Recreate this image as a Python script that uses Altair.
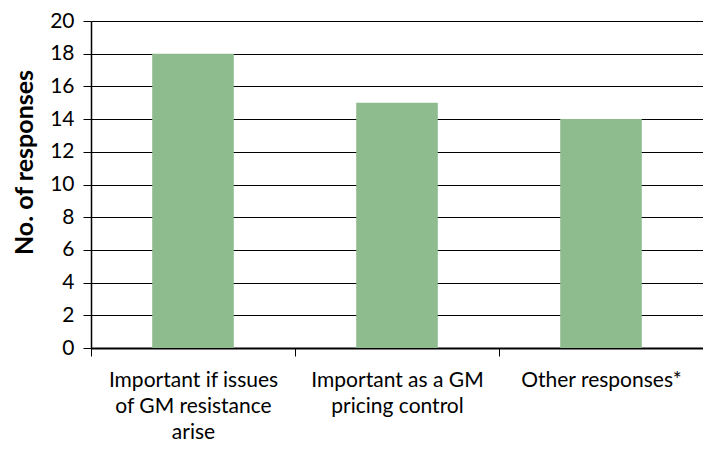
import altair as alt
import pandas as pd

categories = [
    "Important if issues of GM resistance arise",
    "Important as a GM pricing control",
    "Other responses*",
]
label_lines = [
    ["Important if issues", "of GM resistance", "arise"],
    ["Important as a GM", "pricing control"],
    ["Other responses*"],
]
responses = [18, 15, 14]
y_ticks = list(range(0, 21, 2))

df = pd.DataFrame({"category": categories, "responses": responses})

def js_list(lines):
    return "[" + ",".join("'" + l.replace("'", "\\'") + "'" for l in lines) + "]"

label_expr = ""
for cat, lines in zip(categories, label_lines):
    label_expr += f"datum.value == '{cat}' ? {js_list(lines)} : "
label_expr += "datum.label"

FONT = "Lato"

chart = (
    alt.Chart(df)
    .mark_bar(color="#8fbc8f", width=alt.RelativeBandSize(0.4))
    .encode(
        x=alt.X(
            "category:N",
            sort=categories,
            scale=alt.Scale(paddingInner=0, paddingOuter=0),
            axis=alt.Axis(
                title=None,
                labelAngle=0,
                labelExpr=label_expr,
                labelFont=FONT,
                labelFontSize=21,
                labelColor="black",
                labelLineHeight=26,
                labelPadding=13,
                labelLimit=300,
                tickBand="extent",
                tickColor="black",
                tickSize=8,
                domainColor="black",
                domainWidth=2,
                grid=False,
            ),
        ),
        y=alt.Y(
            "responses:Q",
            scale=alt.Scale(domain=[0, 20], nice=False),
            axis=alt.Axis(
                title="No. of responses",
                values=y_ticks,
                titleFont=FONT,
                titleFontSize=25,
                titleFontWeight="bold",
                titleColor="black",
                titleAngle=-90,
                titleX=-67,
                titleY=141,
                titleAlign="center",
                titleBaseline="middle",
                labelFont=FONT,
                labelFontSize=21,
                labelColor="black",
                labelPadding=9,
                tickColor="black",
                tickSize=8,
                domainColor="black",
                domainWidth=1.5,
                grid=True,
                gridColor="black",
                gridWidth=1.2,
                gridOpacity=1,
            ),
        ),
    )
    .properties(
        width=612,
        height=327,
        autosize=alt.AutoSizeParams(type="none"),
        padding={"left": 83, "top": 13, "right": 0, "bottom": 96},
    )
    .configure_view(stroke=None)
)

chart.save("out.html", embed_options={"renderer": "svg", "actions": False})
